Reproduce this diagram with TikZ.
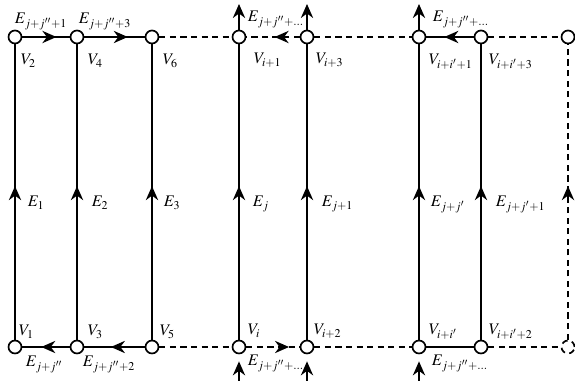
\documentclass[tikz,border=0pt]{standalone}
\usepackage{mathptmx}
\usetikzlibrary{arrows.meta, decorations.markings}
\tikzset{
  graph style/.style={
    >={Stealth[length=8pt,width=7pt,inset=2.6pt]}, % arrow tip style
    line width=0.95pt,                             % default line thickness
  },
  vertex/.style={circle, draw, fill=white, inner sep=0pt, minimum size=0.26cm},
  lbl/.style={inner sep=0pt, anchor=base west, font=\fontsize{9.2}{11}\selectfont},
  midarrow/.style={postaction={decorate},
    decoration={markings, mark=at position #1 with {\arrow{>}}}},
  midarrow/.default=0.5,
  gap/.style={dash pattern=on 3.5pt off 2.5pt},
}

\begin{document}
\begin{tikzpicture}[x=0.02cm, y=-0.02cm, graph style]
    \useasboundingbox (0,0) rectangle (575,381);

    % Vertices, bottom row
    \node[vertex] (v1) at (15,347) {};
    \node[vertex] (v3) at (77,347) {};
    \node[vertex] (v5) at (152,347) {};
    \node[vertex] (vi) at (239,347) {};
    \node[vertex] (vi2) at (307,347) {};
    \node[vertex] (vk) at (419,347) {};
    \node[vertex] (vk2) at (481,347) {};
    \node[vertex, gap] (vr1) at (568,347) {};
    % Vertices, top row
    \node[vertex] (v2) at (15,37) {};
    \node[vertex] (v4) at (77,37) {};
    \node[vertex] (v6) at (152,37) {};
    \node[vertex] (vi1) at (239,37) {};
    \node[vertex] (vi3) at (307,37) {};
    \node[vertex] (vk1) at (419,37) {};
    \node[vertex] (vk3) at (481,37) {};
    \node[vertex] (vr2) at (568,37) {};

    % Loose ends above and below
    \coordinate (ti1) at (239,4);
    \coordinate (ti3) at (307,4);
    \coordinate (tk1) at (419,4);
    \coordinate (bi) at (239,381);
    \coordinate (bi2) at (307,381);
    \coordinate (bk) at (419,381);

    % Vertical edges
    \foreach \a/\b in {v1/v2, v3/v4, v5/v6, vi/vi1, vi2/vi3, vk/vk1, vk2/vk3} {
    	\draw[midarrow=0.52] (\a) -- (\b);
    }
    \draw[gap, midarrow=0.52] (vr1) -- (vr2);

    % Horizontal edges
    \draw[midarrow=0.72] (v2) -- (v4);
    \draw[midarrow=0.72] (v4) -- (v6);
    \draw[midarrow=0.6] (v3) -- (v1);
    \draw[midarrow=0.56] (v5) -- (v3);
    \draw[gap, midarrow=0.47] (vi3) -- (vi1);
    \draw[gap, midarrow=0.8] (vi) -- (vi2);
    \draw[midarrow=0.62] (vk3) -- (vk1);
    \draw (vk) -- (vk2);
    \foreach \a/\b in {v6/vi1, v5/vi, vi3/vk1, vi2/vk, vk3/vr2, vk2/vr1} {
    	\draw[gap] (\a) -- (\b);
    }

    % Edges leaving the picture
    \foreach \a/\b in {vi1/ti1, vi3/ti3, vk1/tk1} {
    	\draw[->] (\a) -- (\b);
    }
    \foreach \a/\b in {bi/vi, bi2/vi2, bk/vk} {
    	\draw[->, shorten >=4pt] (\a) -- (\b);
    }

    % Edge labels
    \node[lbl] (e1) at (27,207) {$E_1$};
    \node[lbl] (e2) at (91,207) {$E_2$};
    \node[lbl] (e3) at (163,207) {$E_3$};
    \node[lbl] (ej) at (252,207) {$E_j$};
    \node[lbl] (ej1) at (321,207) {$E_{j+1}$};
    \node[lbl] (ek) at (430,207) {$E_{j+j'}$};
    \node[lbl] (ek1) at (495,207) {$E_{j+j'+1}$};
    \node[lbl] (et1) at (14,24) {$E_{j+j''+1}$};
    \node[lbl] (et3) at (78,24) {$E_{j+j''+3}$};
    \node[lbl] (eti) at (247,22) {$E_{j+j''+\ldots}$};
    \node[lbl] (etk) at (432,22) {$E_{j+j''+\ldots}$};
    \node[lbl] (eb0) at (25,367) {$E_{j+j''}$};
    \node[lbl] (eb2) at (82,367) {$E_{j+j''+2}$};
    \node[lbl] (ebi) at (247,366) {$E_{j+j''+\ldots}$};
    \node[lbl] (ebk) at (431,366) {$E_{j+j''+\ldots}$};

    % Vertex labels
    \node[lbl] (l2) at (20,65) {$V_2$};
    \node[lbl] (l4) at (87,65) {$V_4$};
    \node[lbl] (l6) at (162,65) {$V_6$};
    \node[lbl] (li1) at (253,64) {$V_{i+1}$};
    \node[lbl] (li3) at (315,64) {$V_{i+3}$};
    \node[lbl] (lk1) at (428,65) {$V_{i+i'+1}$};
    \node[lbl] (lk3) at (488,65) {$V_{i+i'+3}$};
    \node[lbl] (l1) at (18,336) {$V_1$};
    \node[lbl] (l3) at (87,336) {$V_3$};
    \node[lbl] (l5) at (159,336) {$V_5$};
    \node[lbl] (li) at (247,335) {$V_i$};
    \node[lbl] (li2) at (313,335) {$V_{i+2}$};
    \node[lbl] (lk) at (428,335) {$V_{i+i'}$};
    \node[lbl] (lk2) at (488,335) {$V_{i+i'+2}$};
\end{tikzpicture}
\end{document}
